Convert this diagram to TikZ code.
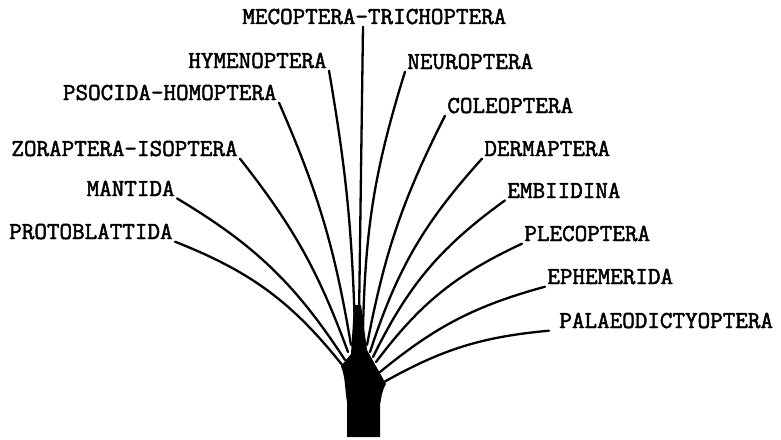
\documentclass[tikz,border=0pt]{standalone}
\usepackage{fontspec}
\newfontfamily\typewriter{Latin Modern Mono}[FakeBold=2]
\begin{document}
\begin{tikzpicture}[x=0.5pt,y=0.5pt,
    taxon/.style={font=\fontsize{12.2}{14}\selectfont\typewriter\bfseries, inner sep=1pt},
    branch/.style={line width=1.15pt, line cap=round}]
  \useasboundingbox (0,0) rectangle (781,-439);
  % orders on the left
  \node[taxon, anchor=base west] (mecoptera) at (240,-24) {MECOPTERA-TRICHOPTERA};
  \node[taxon, anchor=base east] (hymenoptera) at (329,-68) {HYMENOPTERA};
  \node[taxon, anchor=base east] (psocida) at (279,-100) {PSOCIDA-HOMOPTERA};
  \node[taxon, anchor=base east] (zoraptera) at (240,-156) {ZORAPTERA-ISOPTERA};
  \node[taxon, anchor=base east] (mantida) at (177,-196) {MANTIDA};
  \node[taxon, anchor=base east] (protoblattida) at (175,-239) {PROTOBLATTIDA};
  % orders on the right
  \node[taxon, anchor=base west] (neuroptera) at (405,-69) {NEUROPTERA};
  \node[taxon, anchor=base west] (coleoptera) at (445,-113) {COLEOPTERA};
  \node[taxon, anchor=base west] (dermaptera) at (482,-156) {DERMAPTERA};
  \node[taxon, anchor=base west] (embiidina) at (505,-198) {EMBIIDINA};
  \node[taxon, anchor=base west] (plecoptera) at (522,-241) {PLECOPTERA};
  \node[taxon, anchor=base west] (ephemerida) at (545,-284) {EPHEMERIDA};
  \node[taxon, anchor=base west] (palaeodictyoptera) at (557,-328) {PALAEODICTYOPTERA};

  % the stem
  \fill (347,-437) -- (347,-402) to[out=100,in=-70] (341,-366) -- (351,-354)
    -- (354,-305) -- (361,-305) -- (367,-350) -- (386,-384)
    to[out=-120,in=80] (380,-405) -- (380,-437) -- cycle;

  \coordinate (s-meco) at (359,-318);
  \coordinate (s-hyme) at (355,-330);
  \coordinate (s-psoc) at (351,-345);
  \coordinate (s-zora) at (348,-352);
  \coordinate (s-mant) at (345,-360);
  \coordinate (s-prot) at (343,-366);
  \coordinate (s-neur) at (363,-330);
  \coordinate (s-cole) at (367,-345);
  \coordinate (s-derm) at (370,-352);
  \coordinate (s-embi) at (373,-357);
  \coordinate (s-plec) at (376,-362);
  \coordinate (s-ephe) at (380,-372);
  \coordinate (s-pala) at (384,-382);

  \draw[branch] (s-meco) -- (mecoptera.south -| 363,0);
  \draw[branch] (s-hyme) to[bend right=4] (hymenoptera.south east);
  \draw[branch] (s-psoc) to[bend right=7] (psocida.south east);
  \draw[branch] (s-zora) to[bend right=9] (zoraptera.south east);
  \draw[branch] (s-mant) to[bend right=13] (mantida.south east);
  \draw[branch] (s-prot) to[bend right=15] (protoblattida.south east);
  \draw[branch] (s-neur) to[bend left=8] (neuroptera.south west);
  \draw[branch] (s-cole) to[bend left=8] (coleoptera.south west);
  \draw[branch] (s-derm) to[bend left=12] (dermaptera.south west);
  \draw[branch] (s-embi) to[bend left=14] (embiidina.south west);
  \draw[branch] (s-plec) to[bend left=14] (plecoptera.south west);
  \draw[branch] (s-ephe) to[bend left=12] (ephemerida.south west);
  \draw[branch] (s-pala) to[bend left=12] ([xshift=-4pt]palaeodictyoptera.south west);
\end{tikzpicture}
\end{document}
